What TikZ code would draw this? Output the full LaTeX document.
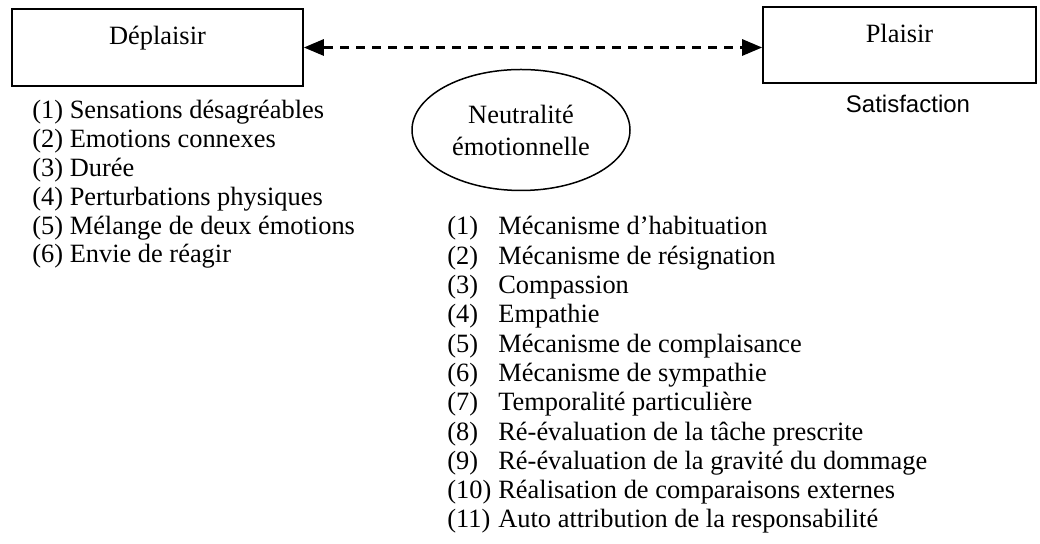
\documentclass[tikz,border=0pt]{standalone}
\usepackage{fontspec}
\setmainfont{Liberation Serif}
\newfontfamily\sansfam{Liberation Sans}
\usepackage{tikz}
\usetikzlibrary{arrows}
\usetikzlibrary{shapes.geometric}
\tikzstyle{every node}=[font=\fontsize{13.2}{16}\selectfont]
\tikzstyle{etat}=[draw,line width=1pt,inner sep=0pt,text height=18pt]
\tikzstyle{item}=[anchor=base west,inner sep=0pt]

\begin{document}
\begin{tikzpicture}[line cap=butt,line join=miter,>=triangle 45,x=0.5pt,y=-0.5pt]
\useasboundingbox (0,0) rectangle (1040,544);
% les deux pôles
\node[etat,minimum width=145.5pt,text depth=20.5pt] (deplaisir) at (157.5,47.5) {Déplaisir};
\node[etat,minimum width=136.5pt,text depth=20pt] (plaisir) at (899.5,45) {Plaisir};
\draw [<->,line width=1.3pt,dash pattern=on 4.5pt off 3.5pt] (deplaisir.east) -- (deplaisir.east -| plaisir.west);
% zone neutre
\node[draw,ellipse,line width=0.75pt,minimum width=109pt,minimum height=60.5pt,align=center,inner sep=0pt] (neutre) at (521,130) {Neutralité\\émotionnelle};
\node[anchor=base,font=\sansfam\fontsize{12}{14}\selectfont] (satisfaction) at (908,113) {Satisfaction};
% listes
\foreach \txt [count=\i from 0] in {(1) Sensations désagréables,(2) Emotions connexes,(3) Durée,(4) Perturbations physiques,(5) Mélange de deux émotions,(6) Envie de réagir}
  \node[item] (gauche\i) at (32,119+28.8*\i) {\txt};
\foreach \txt [count=\i] in {Mécanisme d’habituation,Mécanisme de résignation,Compassion,Empathie,Mécanisme de complaisance,Mécanisme de sympathie,Temporalité particulière,Ré-évaluation de la tâche prescrite,Ré-évaluation de la gravité du dommage,Réalisation de comparaisons externes,Auto attribution de la responsabilité}
  \node[item] (droite\i) at (447,235+29.3*\i-29.3) {\makebox[25.5pt][l]{(\i)}\txt};
\end{tikzpicture}
\end{document}
